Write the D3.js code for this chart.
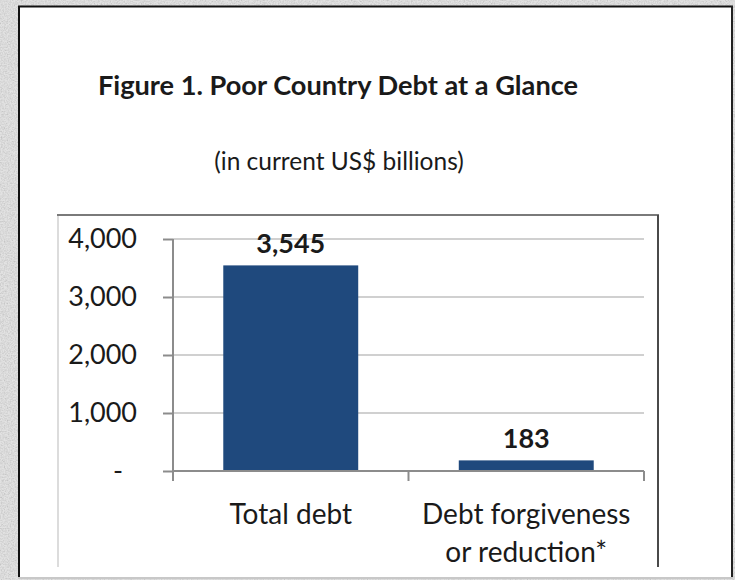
<!DOCTYPE html>
<html>
<head>
<meta charset="utf-8">
<script src="https://cdn.jsdelivr.net/npm/d3@7"></script>
<style>
  html, body { margin: 0; padding: 0; background: #d6d6d6; }
  svg { display: block; }
  text { font-family: Lato, "Open Sans", sans-serif; fill: #1a1a1a; }
</style>
</head>
<body>
<svg id="chart" width="735" height="580"></svg>
<script>
// Chart data
const categories = ["Total debt", "Debt forgiveness\nor reduction*"];
const values = [3545, 183];
const yTicks = [0, 1000, 2000, 3000, 4000];
const yTickLabels = ["-", "1,000", "2,000", "3,000", "4,000"];
const titleText = "Figure 1. Poor Country Debt at a Glance";
const subtitleText = "(in current US$ billions)";

const svg = d3.select("#chart");
const W = 735, H = 580;

// Stone-grain backdrop
const defs = svg.append("defs");
const grain = defs.append("filter").attr("id", "grain")
  .attr("x", 0).attr("y", 0).attr("width", "100%").attr("height", "100%");
grain.append("feTurbulence").attr("type", "fractalNoise")
  .attr("baseFrequency", 0.7).attr("numOctaves", 3).attr("seed", 4).attr("result", "n");
grain.append("feColorMatrix").attr("in", "n").attr("type", "matrix")
  .attr("values", "0 0 0 0 0  0 0 0 0 0  0 0 0 0 0  0.5 0.5 0.5 0 -0.62").attr("result", "a");
grain.append("feFlood").attr("flood-color", "#9a9a9a").attr("result", "c");
grain.append("feComposite").attr("in", "c").attr("in2", "a").attr("operator", "in").attr("result", "dots");
grain.append("feMerge").call(m => {
  m.append("feMergeNode").attr("in", "SourceGraphic");
  m.append("feMergeNode").attr("in", "dots");
});
svg.append("rect").attr("width", W).attr("height", H)
  .attr("fill", "#e2e2e2").attr("filter", "url(#grain)");

// Outer white panel
svg.append("rect").attr("x", 18).attr("y", 6).attr("width", 714).attr("height", 572)
  .attr("fill", "#ffffff");
svg.append("line").attr("x1", 18).attr("x2", 733).attr("y1", 6.5).attr("y2", 6.5)
  .attr("stroke", "#111").attr("stroke-width", 2);
svg.append("line").attr("x1", 19).attr("x2", 19).attr("y1", 6).attr("y2", 578)
  .attr("stroke", "#111").attr("stroke-width", 2);
svg.append("line").attr("x1", 732).attr("x2", 732).attr("y1", 6).attr("y2", 578)
  .attr("stroke", "#222").attr("stroke-width", 2);
svg.append("line").attr("x1", 18).attr("x2", 733).attr("y1", 578).attr("y2", 578)
  .attr("stroke", "#c8c8c8").attr("stroke-width", 2);

// Titles
svg.append("text").attr("x", 338).attr("y", 95).attr("text-anchor", "middle")
  .attr("font-size", 27.2).attr("font-weight", 700).text(titleText);
svg.append("text").attr("x", 339).attr("y", 170).attr("text-anchor", "middle")
  .attr("font-size", 24.5).text(subtitleText);

// Chart frame
svg.append("line").attr("x1", 58).attr("x2", 58).attr("y1", 215).attr("y2", 567)
  .attr("stroke", "#dcdcdc").attr("stroke-width", 2);
svg.append("line").attr("x1", 57).attr("x2", 659).attr("y1", 215).attr("y2", 215)
  .attr("stroke", "#7a7a7a").attr("stroke-width", 2);
svg.append("line").attr("x1", 658).attr("x2", 658).attr("y1", 215).attr("y2", 567)
  .attr("stroke", "#4a4a4a").attr("stroke-width", 2);

// Scales
const x = d3.scaleBand().domain(categories).range([173, 644])
  .paddingInner(0.427).paddingOuter(0.2135);
const y = d3.scaleLinear().domain([0, 4000]).range([471, 239]);
const [x0, x1] = x.range();

// Gridlines
svg.append("g").selectAll("line").data(yTicks.slice(1)).join("line")
  .attr("x1", x0).attr("x2", x1)
  .attr("y1", d => y(d)).attr("y2", d => y(d))
  .attr("stroke", "#d0d0d0").attr("stroke-width", 2);

// Bars
svg.append("g").selectAll("rect").data(values).join("rect")
  .attr("x", (d, i) => x(categories[i]))
  .attr("width", x.bandwidth())
  .attr("y", d => y(d))
  .attr("height", d => y(0) - y(d))
  .attr("fill", "#1f497d");

// Value labels
const fmt = d3.format(",");
svg.append("g").selectAll("text").data(values).join("text")
  .attr("x", (d, i) => x(categories[i]) + x.bandwidth() / 2)
  .attr("y", d => y(d) - 12)
  .attr("text-anchor", "middle")
  .attr("font-size", 27).attr("font-weight", 700)
  .text(d => fmt(d));

// Y axis
const yAxis = d3.axisLeft(y).tickValues(yTicks).tickSize(10).tickSizeOuter(0)
  .tickPadding(26).tickFormat((d, i) => yTickLabels[i]);
const gy = svg.append("g").attr("transform", `translate(${x0},0)`).call(yAxis);
gy.select(".domain").remove();
gy.selectAll(".tick line").attr("stroke", "#8c8c8c").attr("stroke-width", 2);
gy.selectAll(".tick text").attr("font-size", 27).attr("fill", "#1a1a1a")
  .style("font-family", "Lato, sans-serif")
  .attr("dx", d => d === 0 ? -14 : 0);
svg.append("line").attr("x1", x0).attr("x2", x0).attr("y1", y(4000)).attr("y2", y(0) + 10)
  .attr("stroke", "#8c8c8c").attr("stroke-width", 2);

// X axis line with category boundary ticks
svg.append("line").attr("x1", x0).attr("x2", x1).attr("y1", y(0)).attr("y2", y(0))
  .attr("stroke", "#8c8c8c").attr("stroke-width", 2);
const bounds = [x0, ...categories.slice(1).map(c => x(c) - x.step() * x.paddingInner() / 2), x1];
svg.append("g").selectAll("line").data(bounds).join("line")
  .attr("x1", d => d).attr("x2", d => d)
  .attr("y1", y(0)).attr("y2", y(0) + 10)
  .attr("stroke", "#8c8c8c").attr("stroke-width", 2);

// Category labels
const catG = svg.append("g").selectAll("text").data(categories).join("text")
  .attr("text-anchor", "middle")
  .attr("font-size", 28)
  .attr("x", d => x(d) + x.bandwidth() / 2)
  .attr("y", y(0) + 53);
catG.selectAll("tspan").data(d => d.split("\n")).join("tspan")
  .attr("x", function () { return this.parentNode.getAttribute("x"); })
  .attr("dy", (d, i) => i === 0 ? 0 : 38)
  .text(d => d);
</script>
</body>
</html>
